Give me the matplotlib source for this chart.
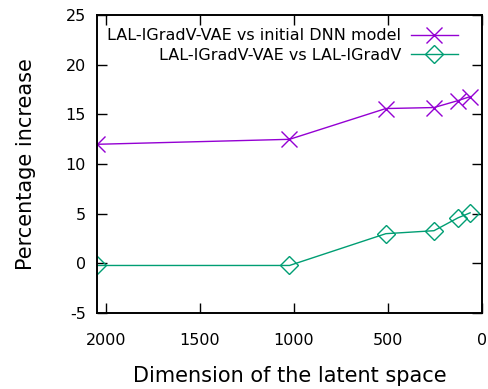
import numpy as np
import matplotlib.pyplot as plt

plt.rcParams['font.family'] = ['DejaVu Sans']
plt.rcParams['axes.unicode_minus'] = False

# latent space dimensions
dims = [2048, 1024, 512, 256, 128, 64]
# percentage increase
vs_dnn = [12.0, 12.5, 15.6, 15.7, 16.4, 16.8]
vs_igradv = [-0.2, -0.2, 3.0, 3.3, 4.6, 5.1]

fig = plt.figure(figsize=(4.89, 3.89), dpi=100)
ax = fig.add_axes([0.198, 0.195, 0.788, 0.766])

ax.plot(dims, vs_dnn, color='#9400d3', lw=1.0, marker='x', ms=12, mew=1.0,
        label='LAL-IGradV-VAE vs initial DNN model')
ax.plot(dims, vs_igradv, color='#009e73', lw=1.0, marker='D', ms=9, mew=1.0,
        mfc='none', label='LAL-IGradV-VAE vs LAL-IGradV')

ax.set_xlim(2048, 0)
ax.set_ylim(-5, 25)
ax.set_xticks([2000, 1500, 1000, 500, 0])
ax.set_yticks(np.arange(-5, 26, 5))
ax.tick_params(direction='in', top=True, right=True, length=7, width=1.0,
               labelsize=11.5)
ax.tick_params(axis='x', pad=14)
ax.tick_params(axis='y', pad=8)
for s in ax.spines.values():
    s.set_linewidth(1.4)

ax.set_xlabel('Dimension of the latent space', fontsize=15, labelpad=13)
ax.set_ylabel('Percentage increase', fontsize=15, labelpad=21)

ax.legend(loc='upper right', bbox_to_anchor=(0.955, 0.978), borderaxespad=0,
          frameon=False, markerfirst=False, fontsize=11.5,
          handlelength=3.0, labelspacing=0.3, handletextpad=0.6)

fig.savefig('out.png', dpi=100)
